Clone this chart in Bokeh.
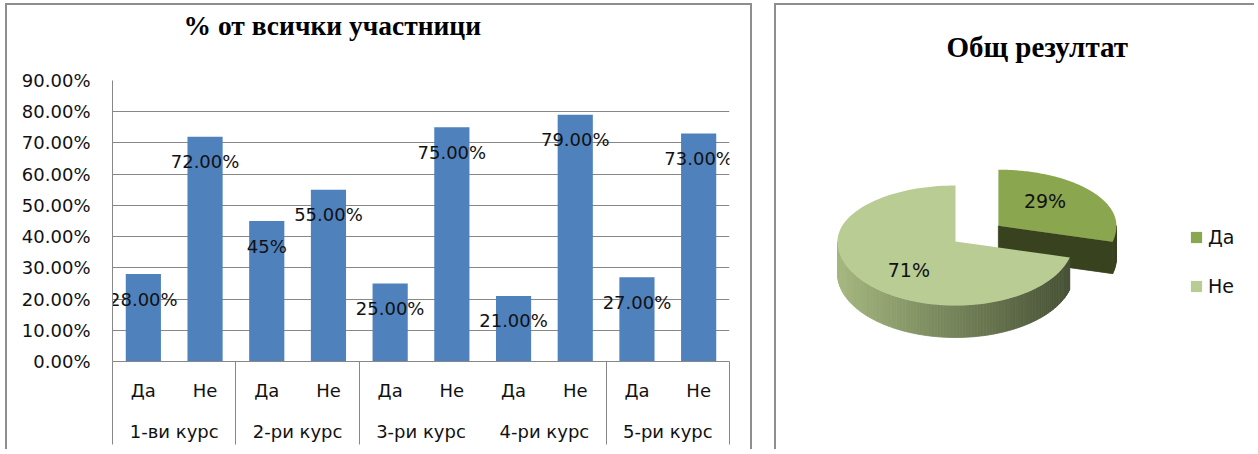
import math
from bokeh.plotting import figure
from bokeh.models import (ColumnDataSource, Range1d, FixedTicker, Title,
                          NumeralTickFormatter, LinearAxis, Legend, LegendItem)
from bokeh.layouts import row
from bokeh.core.properties import value
from bokeh.embed import file_html
from bokeh.resources import INLINE

# ---------------- data ----------------
courses = ["1-ви курс", "2-ри курс", "3-ри курс", "4-ри курс", "5-ри курс"]
answers = ["Да", "Не"]
yes_share = [0.28, 0.45, 0.25, 0.21, 0.27]
no_share = [0.72, 0.55, 0.75, 0.79, 0.73]
bar_value_labels = ["28.00%", "72.00%", "45%", "55.00%", "25.00%",
                    "75.00%", "21.00%", "79.00%", "27.00%", "73.00%"]
y_tick_values = [0.0, 0.1, 0.2, 0.3, 0.4, 0.5, 0.6, 0.7, 0.8, 0.9]

total_answers = ["Да", "Не"]
total_percent = [29, 71]

bar_title = "% от всички участници"
pie_title = "Общ резултат"

# ---------------- style ----------------
FONT = "DejaVu Sans"
SERIF = "Liberation Serif"
TXT = "#111111"
GRID = "#878787"
BAR = "#4F81BD"
BORDER = "2px solid #8e8e8e"
MT, MB = 75, 90          # shared top / bottom borders (frames are aligned in the row)
H = 446


def spacer_above(p, standoff):
    """Blank title between the frame and the real title: only reserves vertical space."""
    p.add_layout(Title(text=" ", text_font=FONT, text_font_size="10px",
                       standoff=standoff), "above")


# ================= bar chart =================
n_ans = len(answers)
n_bars = len(courses) * n_ans
bar_x = [k + 0.5 for k in range(n_bars)]
bar_answer = [answers[k % n_ans] for k in range(n_bars)]
shares = [v for pair in zip(yes_share, no_share) for v in pair]
src = ColumnDataSource(data=dict(x=bar_x, top=shares, label=bar_value_labels))

p1 = figure(
    x_range=Range1d(0, n_bars),
    y_range=Range1d(0, y_tick_values[-1]),
    width=747, height=H,
    min_border_left=105, min_border_right=25, min_border_top=MT, min_border_bottom=MB,
    output_backend="svg", toolbar_location=None,
)
p1.title = Title(text=bar_title, text_font=SERIF, text_font_style="bold",
                 text_font_size="27.5px", text_color="#000000", align="left",
                 offset=71, standoff=0, vertical_align="top")
spacer_above(p1, 25)
p1.outline_line_color = None
p1.background_fill_color = "white"
p1.border_fill_color = "white"
p1.styles = {"border-top": BORDER, "border-left": BORDER, "border-right": BORDER}
p1.margin = (3, 0, 0, 5)

yax = p1.left[0]
yticker = FixedTicker(ticks=y_tick_values, minor_ticks=[])
yax.ticker = yticker
p1.ygrid.ticker = yticker
yax.formatter = NumeralTickFormatter(format="0.00%")
yax.major_tick_line_color = None
yax.minor_tick_line_color = None
yax.major_tick_out = 0
yax.major_tick_in = 0
yax.major_label_standoff = 22
yax.major_label_text_font = FONT
yax.major_label_text_font_size = "18px"
yax.major_label_text_color = TXT
yax.axis_line_color = GRID
p1.ygrid.grid_line_color = GRID
p1.xgrid.grid_line_color = None


def style_x(ax, standoff):
    ax.major_tick_line_color = None
    ax.minor_tick_line_color = None
    ax.major_tick_out = 0
    ax.major_tick_in = 0
    ax.major_label_standoff = standoff
    ax.major_label_text_font = FONT
    ax.major_label_text_font_size = "18px"
    ax.major_label_text_color = TXT


# answer row (Да / Не) on the default bottom axis
xa = p1.below[0]
xa.ticker = FixedTicker(ticks=bar_x, minor_ticks=[])
xa.major_label_overrides = {x: a for x, a in zip(bar_x, bar_answer)}
xa.axis_line_color = GRID
style_x(xa, 18)

# course row
group_x = [i * n_ans + n_ans / 2 for i in range(len(courses))]
ga = LinearAxis(ticker=FixedTicker(ticks=group_x, minor_ticks=[]),
                major_label_overrides={x: c for x, c in zip(group_x, courses)},
                axis_line_color=None)
style_x(ga, 17)
p1.add_layout(ga, "below")

# group separators: minor ticks pointing up through both label rows
boundaries = [i * n_ans for i in range(len(courses) + 1)]
sep_ticks = [b for k, b in enumerate(boundaries) if k != 3]
sep_axis = LinearAxis(ticker=FixedTicker(ticks=[], minor_ticks=sep_ticks),
                      axis_line_color=None, major_tick_line_color=None,
                      major_tick_in=0, major_tick_out=0,
                      minor_tick_in=83, minor_tick_out=0, minor_tick_line_color=GRID)
p1.add_layout(sep_axis, "below")

p1.vbar(x="x", top="top", width=0.57, source=src, fill_color=BAR, line_color=None)
p1.text(x="x", y="top", text="label", source=src, text_align="center",
        text_baseline="middle", y_offset=25, text_font=value(FONT),
        text_font_size="18px", text_color=TXT)

# ================= 3-D pie =================
# data coordinates of this panel's frame are page pixels
FX0, FX1 = 776, 1256
FY0, FY1 = 5 + MT, 5 + H - MB
p2 = figure(
    x_range=Range1d(FX0, FX1), y_range=Range1d(FY1, FY0),
    width=FX1 - FX0, height=H,
    min_border_left=0, min_border_right=0, min_border_bottom=MB, min_border_top=MT,
    output_backend="svg", toolbar_location=None,
    x_axis_type=None, y_axis_type=None,
)
p2.title = Title(text=pie_title, text_font=SERIF, text_font_style="bold",
                 text_font_size="29px", text_color="#000000", align="left",
                 offset=170, standoff=0, vertical_align="top")
spacer_above(p2, 3)
p2.grid.visible = False
p2.outline_line_color = None
p2.styles = {"border-top": BORDER, "border-left": BORDER}
p2.margin = (3, 0, 0, 22)

cx, cy = 955.0, 241.0
rx, ry_back, ry_front = 118.0, 56.0, 64.0
depth = 32.0
explode = [0.46, 0.0]
top_colors = ["#8AA64E", "#B8CC94"]
side_light = ["#38421F", "#A5B77F"]
side_dark = ["#38421F", "#454F34"]


def ell(theta, ox, oy):
    c = math.cos(theta)
    ry = ry_back if c > 0 else ry_front
    return ox + rx * math.sin(theta), oy - ry * c


def hex2rgb(h):
    return tuple(int(h[i:i + 2], 16) for i in (1, 3, 5))


def mix(a, b, t):
    ra, rb = hex2rgb(a), hex2rgb(b)
    return "#%02x%02x%02x" % tuple(int(round(ra[i] + (rb[i] - ra[i]) * t)) for i in range(3))


total = float(sum(total_percent))
slices = []
acc = 0.0
for i, v in enumerate(total_percent):
    a0 = acc
    a1 = acc + 2 * math.pi * v / total
    acc = a1
    mid = (a0 + a1) / 2
    ox = cx + explode[i] * rx * math.sin(mid)
    oy = cy - explode[i] * ry_back * math.cos(mid)
    slices.append((i, a0, a1, mid, ox, oy))

order = sorted(slices, key=lambda s: -math.cos(s[3]))
top_renderers = {}
for i, a0, a1, mid, ox, oy in order:
    xs, ys, cols = [], [], []
    for ang, vis in ((a1, math.sin(a1) > 1e-6), (a0, math.sin(a0) < -1e-6)):
        if vis:
            ex, ey = ell(ang, ox, oy)
            xs.append([ox, ex, ex, ox])
            ys.append([oy, ey, ey + depth, oy + depth])
            cols.append(side_dark[i])
    lo, hi = max(a0, math.pi / 2), min(a1, 3 * math.pi / 2)
    if hi > lo:
        n = max(2, int((hi - lo) / (2 * math.pi) * 240))
        for k in range(n):
            t0 = lo + (hi - lo) * k / n
            t1 = lo + (hi - lo) * (k + 1) / n
            x0, y0 = ell(t0, ox, oy)
            x1, y1 = ell(t1, ox, oy)
            f = ((x0 + x1) / 2 - (ox - rx)) / (2 * rx)
            f = min(max(f, 0.0), 1.0)
            xs.append([x0, x1, x1, x0])
            ys.append([y0, y1, y1 + depth, y0 + depth])
            cols.append(mix(side_light[i], side_dark[i], f))
    p2.patches(xs=xs, ys=ys, fill_color=cols, line_color=cols, line_width=0.8)
    m = 120
    tx, ty = [ox], [oy]
    for k in range(m + 1):
        px, py = ell(a0 + (a1 - a0) * k / m, ox, oy)
        tx.append(px)
        ty.append(py)
    top_renderers[i] = p2.patch(x=tx, y=ty, fill_color=top_colors[i], line_color=None)

lab_x, lab_y, lab_t = [], [], []
for i, a0, a1, mid, ox, oy in slices:
    c = math.cos(mid)
    ry = ry_back if c > 0 else ry_front
    lab_x.append(ox + 0.5 * rx * math.sin(mid))
    lab_y.append(oy - 0.72 * ry * c)
    lab_t.append(f"{total_percent[i]}%")
p2.text(x=lab_x, y=lab_y, text=lab_t, text_align="center", text_baseline="middle",
        text_font=value(FONT), text_font_size="19px", text_color=TXT)

legend = Legend(
    items=[LegendItem(label=total_answers[i], renderers=[top_renderers[i]]) for i in range(len(total_answers))],
    location=(413, FY1 - 298), orientation="vertical",
    border_line_color=None, background_fill_alpha=0, padding=0, margin=0,
    spacing=25, label_height=24, glyph_height=14, glyph_width=14, label_standoff=5,
    label_text_font=FONT, label_text_font_size="19px", label_text_color=TXT,
)
p2.add_layout(legend)

layout = row(p1, p2)
open("out.html", "w").write(file_html(layout, INLINE))
